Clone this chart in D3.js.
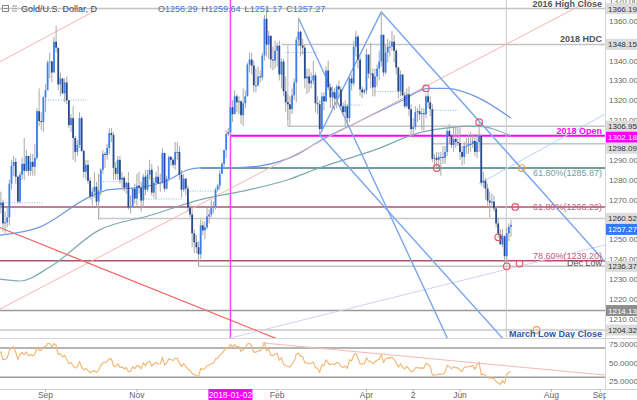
<!DOCTYPE html>
<html>
<head>
<meta charset="utf-8">
<script src="https://cdn.jsdelivr.net/npm/d3@7"></script>
<style>
  body { margin: 0; background: #fff; }
  svg { display: block; font-family: Arial, "Liberation Sans", sans-serif; }
</style>
</head>
<body>
<div id="chart"></div>
<script>
// daily XAU/USD, one value per weekday starting 2017-06-12 (first weeks only feed the RSI)
var firstDay = "2017-06-12"
var closes = [
  1266,1267,1261,1254,1254,1246,1243,1247,1250,1256,1246,1253,1249,1244,1241,
  1221,1225,1226,1223,1212,1213,1219,1219,1217,1228,1234,1241,1242,1245,1254,1255,1249,1260,1261,1269,1269,
  1269,1267,1268.5,1258,1258.5,1261,1278,1287,1289,1281.5,1269,1282.5,1288,1284.5,1292,1284.5,1289,1286.5,1291,1314.5,1309.5,1309,1321.5,
  1325,1339,1339.5,1334,1349.5,1346.5,1328,1331,1323.5,1329,1320,1307.5,1311,1301,1294,1297.5,1311,1294.5,1284,1287.5,1279.5,
  1271.5,1274,1276.5,1269,1274.5,1285,1293,1292.5,1296,1303.5,1302.5,1286,1283,1290,1280,1281,1276,1278.5,1266,1266.5,1275.5,1270.5,
  1277,1276,1269.5,1281.5,1275,1282.5,1285,1273.5,1278.5,1281.5,1278,1278.5,1293.5,1275.5,1280.5,1291.5,1290,1287.5,1294,1294,1282.5,1275,
  1280.5,1275.5,1266,1262.5,1253,1248.5,1246,1242.5,1257,1254.5,1256,1261.5,1262.5,1266,1266.5,1275,1277,1283,1288,1295,1303,
  1304,1316.5,1313,1322,1319,1319.5,1312.5,1318.5,1322,1338,1340.5,1337.5,1327.5,1327.5,1332,1331.5,1342.5,1361,1348,1352.5,1340.5,1340,1345,
  1347.5,1333,1339.5,1324.5,1319,1318,1315.5,1322.5,1329,1350.5,1354.5,1347.5,1346.5,1331,1332,1328.5,1330,1332.5,1318.5,1318,
  1305.5,1322,1319.5,1335,1326.5,1321.5,1324,1321,1327,1325.5,1317,1314,1317,1311,1331,1328.5,1347,1352,1340.5,1325.5,1324,1325,
  1343,1333.5,1333.5,1326.5,1332,1336,1339.5,1353,1334,1344,1347,1347,1349.5,1345,1336.5,1324.5,1333,1322.5,1317,1323,1315.5,
  1305.5,1306.5,1314,1314.5,1313,1313.5,1313,1322,1319,1315.5,1290.5,1291,1290,1291.5,1291.5,1291,1294,1304.5,1302,1297.5,1300.5,1299,1298.5,
  1294,1291.5,1297,1297,1298,1298,1299.5,1294,1299,1302,1278.5,1279.5,1275.5,1269.5,1268.5,1269,1265.5,1258,1252.5,1247.5,1251.5,
  1241.5,1253,1256.29,1257.27
]
var highs = [
  1272,1270,1275,1262,1258,1256,1249,1250,1253,1258,1259,1256,1256,1251,1247,
  1242,1227,1229,1227,1225,1215,1221,1225,1223,1232,1236,1244,1245,1247,1256,1259,1257,1262,1266,1270,1275,
  1274,1271,1274,1270,1264,1266,1280,1290,1292,1291,1282,1284,1291,1301,1295,1292,1293,1293,1298,1316,1326,1314,1322,
  1328,1340,1344,1340,1352,1357.5,1338,1334,1331,1331,1332,1320,1313,1317,1302,1300,1314,1312,1295,1290,1290,
  1281,1276,1284,1279,1283,1286,1295,1294,1298,1306,1306,1304,1289,1292,1292,1284,1282,1279,1284,1272,1276,1278,
  1283,1284,1279,1283,1285,1285,1290,1288,1281,1284,1287,1283,1296,1293,1282,1292,1292,1291,1299,1299,1297,1285,
  1283,1281,1277,1268,1265,1255,1252,1249,1260,1259,1259,1266,1265,1270,1269,1276,1278,1285,1289,1295,1305,
  1306,1317,1320,1325,1323,1322,1320,1326,1325,1339,1344,1344,1340,1336,1337,1335,1344,1363,1366,1355,1352,1347,1350,
  1349,1350,1341,1341,1332,1323,1322,1326,1331,1352,1361,1355,1351,1348,1336,1336,1334,1340,1334,1322,
  1320,1324,1324,1337,1340,1328,1327,1326,1328,1330,1327,1319,1320,1318,1333,1333,1350,1355,1353,1342,1327,1326,
  1346,1343,1349,1336,1336,1338,1345,1365,1352,1348,1351,1350,1355,1353,1346,1337,1335,1333,1324,1326,1327,
  1318,1311,1317,1316,1318,1316,1316,1323,1325,1322,1318,1293,1294,1294,1294,1297,1297,1306,1308,1300,1307,1307,1306,
  1306,1297,1299,1301,1303,1304,1303,1302,1303,1309.5,1303,1284,1281,1278,1274,1273,1272,1267,1261,1255,1255,
  1252,1256,1258,1259.64
]
var lows = [
  1262,1262,1259,1250,1251,1245,1241,1242,1246,1249,1236,1244,1247,1243,1238,
  1218,1219,1218,1220,1205,1205,1209,1217,1215,1216,1227,1233,1237,1237,1244,1250,1246,1247,1255,1257,1266,
  1264,1262,1263,1254,1253,1256,1257,1275,1282,1278,1268,1268,1280,1280,1284,1282,1282,1282,1282,1290,1307,1305,1304,
  1314,1328,1331,1329,1334,1344,1325,1322,1323,1319,1318,1306,1304,1290,1289,1292,1296,1294,1281,1280,1278,
  1270,1267,1271,1266,1260,1272,1283,1286,1290,1293,1299,1280,1280,1280,1278,1275,1274,1273,1265,1263,1266,1268,
  1267,1273,1264,1266,1272,1274,1280,1272,1271,1270,1278,1274,1278,1274,1275,1279,1287,1286,1285,1290,1280,1271,
  1274,1272,1264,1261,1246,1243,1243,1236.5,1240,1252,1250,1255,1258,1261,1263,1265,1274,1275,1283,1286,1291,
  1302,1302,1309,1313,1314,1313,1308,1307,1316,1322,1334,1333,1324,1324,1327,1329,1330,1340,1342,1341,1336,1335,1336,
  1337,1330,1326,1322,1314,1310,1307,1313,1320,1319,1347,1342,1343,1326,1323,1324,1326,1328,1314,1313,
  1303,1304,1315,1319,1325,1316,1316,1315,1316,1322,1315,1312,1307,1307,1309,1325,1327,1342,1336,1322,1321,1323,
  1323,1331,1326,1322,1322,1327,1330,1337,1332,1333,1339,1342,1345,1339,1333,1321,1322,1322,1316,1316,1312,
  1302,1301,1305,1309,1310,1305,1304,1311,1316,1312,1289,1285.5,1286,1286,1282,1288,1288,1292,1298,1296,1294,1296,1297,
  1290,1287,1288,1293,1293,1294,1296,1292,1291,1294,1277,1276,1270,1267,1261,1266,1264,1256,1251,1247,1246,
  1237.5,1238,1249,1251.17
]

// moving averages (100 and 200 day)
var ma100 = [["2017-08-02",1252],["2017-08-29",1256],["2017-10-02",1271.5],["2017-10-13",1275],["2017-11-02",1276],
  ["2017-11-22",1280],["2017-12-05",1285],["2017-12-13",1286],["2018-01-02",1286],["2018-01-22",1287],["2018-02-15",1293],
  ["2018-03-01",1299.5],["2018-03-26",1308.6],["2018-04-25",1320],["2018-05-11",1326],["2018-05-24",1326],
  ["2018-06-13",1321.6],["2018-07-05",1311]]
var ma200 = [["2017-08-02",1230],["2017-08-16",1229],["2017-09-05",1236],["2017-10-06",1254.5],["2017-11-09",1262],
  ["2017-12-13",1270],["2018-01-15",1275],["2018-02-08",1280],["2018-03-01",1286],["2018-04-06",1295],
  ["2018-05-08",1304],["2018-06-13",1307],["2018-07-05",1302]]

// horizontal levels and the date each one starts
var levelPrices = [1366.19,1348.15,1306.95,1302.18,1298.09,1285.87,1266.29,1260.52,1239.20,1236.37,1214.13,1204.32]
var levelFrom = ["2017-06-12","2018-02-05","2018-02-08","2018-01-02","2018-05-15","2017-12-13","2017-06-12",
  "2017-10-06","2017-06-12","2017-12-12","2017-06-12","2017-06-12"]
var levelNotes = [["2016 High Close",1366.19],["2018 HDC",1348.15],["2018 Open",1302.18],["61.80%(1285.87)",1285.87],
  ["61.80%(1266.29)",1266.29],["78.60%(1239.20)",1239.20],["Dec Low",1236.37],["March Low Day Close",1204.32]]

// drawn trend lines, two anchors each [date, price]
var pitchfork = [
  [["2018-02-15",1361.4],["2018-05-24",1200.3]],
  [["2018-03-01",1302.5],["2018-04-11",1364.5]],
  [["2018-04-11",1364.5],["2018-06-14",1309.5]],
  [["2018-03-01",1302.5],["2018-05-07",1246.6]]
]
var redTrend = [["2017-09-01",1246.7],["2018-01-02",1209.3]]
var pinkTrend = [["2017-09-01",1226.9],["2018-01-02",1275.6]]
var pinkUpper = [["2017-09-01",1351.7],["2017-10-04",1364.9]]
var lilacTrend = [["2018-01-02",1200.3],["2018-05-14",1225.3]]
var paleBlueTrend = [["2018-06-14",1278],["2018-08-01",1298.1]]
var rsiTrend = [["2018-01-23",76.9],["2018-05-25",53]]

var pivotDashes = [["2017-08-01","2017-08-31",1268.4],["2017-09-01","2017-09-29",1320.1],["2017-10-10","2017-10-23",1279],
  ["2017-11-06","2017-12-01",1270.3],["2017-12-06","2017-12-21",1274.3],["2018-02-07","2018-02-28",1344],
  ["2018-03-14","2018-03-29",1317.6],["2018-04-06","2018-04-24",1324.4],["2018-05-14","2018-05-31",1315]]

var redMarks = [["2018-05-10",1326],["2018-06-14",1309],["2018-05-17",1285.9],["2018-07-09",1266.3],
  ["2018-06-27",1251],["2018-07-03",1236.4],["2018-07-11",1237.8]]
var orangeMarks = [["2018-07-12",1285.87],["2018-07-23",1204.32]]

var timeTicks = [["2017-09-01","Sep"],["2017-11-01","Nov"],["2018-01-02","2018-01-02"],["2018-02-01","Feb"],
  ["2018-04-02","Apr"],["2018-05-02","2"],["2018-06-01","Jun"],["2018-08-01","Aug"],["2018-09-03","Sep"]]

var W = 637, H = 400
var plotR = 605, pBot = 338, rTop = 339, rBot = 389

var parse = d3.timeParse("%Y-%m-%d")
var days = d3.timeDay.range(parse(firstDay), parse("2018-10-01")).filter(d => d.getDay() % 6 !== 0)
var iSep = d3.bisectLeft(days, parse("2017-09-01"))
var x = d3.scaleLinear().domain([iSep, iSep + 219]).range([45.5, 511])
var y = d3.scaleLinear().domain([1200.3, 1370.5]).range([pBot, 0])
var yr = d3.scaleLinear().domain([25, 75]).range([381, 344.3])
var di = s => d3.bisectLeft(days, parse(s))
var xd = s => x(di(s))

var bars = closes.map((c, i) => ({i: i, o: i ? closes[i - 1] : c, h: highs[i], l: lows[i], c: c}))

// wilder rsi 14
var rsi = []
var ag = 0, al = 0
for (var i = 1; i < closes.length; i++) {
  var ch = closes[i] - closes[i - 1]
  var g = Math.max(ch, 0), l = Math.max(-ch, 0)
  if (i <= 14) {
    ag += g / 14; al += l / 14
    if (i == 14) rsi.push({i: i, v: 100 - 100 / (1 + ag / al)})
  } else {
    ag = (ag * 13 + g) / 14; al = (al * 13 + l) / 14
    rsi.push({i: i, v: 100 - 100 / (1 + ag / al)})
  }
}

var svg = d3.select("#chart").append("svg").attr("width", W).attr("height", H)
var defs = svg.append("defs")
defs.append("clipPath").attr("id", "cp").append("rect").attr("width", plotR).attr("height", pBot)
defs.append("clipPath").attr("id", "cr").append("rect").attr("y", rTop).attr("width", plotR).attr("height", rBot - rTop)
defs.append("clipPath").attr("id", "cx").append("rect").attr("width", plotR + 1).attr("height", H)

var price = svg.append("g").attr("clip-path", "url(#cp)")

// line through two anchors, stretched far both ways, the clip trims it
function ray(g, pts, yScale, ext) {
  var x1 = xd(pts[0][0]), y1 = yScale(pts[0][1]), x2 = xd(pts[1][0]), y2 = yScale(pts[1][1])
  var t0 = ext == "both" || ext == "left" ? -40 : 0
  var t1 = ext == "both" || ext == "right" ? 40 : 1
  return g.append("line")
    .attr("x1", x1 + (x2 - x1) * t0).attr("y1", y1 + (y2 - y1) * t0)
    .attr("x2", x1 + (x2 - x1) * t1).attr("y2", y1 + (y2 - y1) * t1)
    .attr("fill", "none")
}

// levels
var levelColor = ["#c4c4c4","#c4c4c4","#c4c4c4","#ff00ff","#c4c4c4","#6f9c9c","#b0506f","#c8c8c8","#b0506f","#c4c4c4","#9a9a9a","#c8c8c8"]
var levelWidth = [1.5,1.5,1.5,2,1.5,2,1.5,1.5,1.5,1.5,1.5,1.5]
levelPrices.forEach((p, k) => {
  price.append("line")
    .attr("x1", Math.max(0, xd(levelFrom[k]))).attr("x2", plotR)
    .attr("y1", y(p)).attr("y2", y(p))
    .attr("stroke", levelColor[k]).attr("stroke-width", levelWidth[k])
})
// little brackets at the start of some levels
price.append("line").attr("x1", xd("2018-02-08")).attr("x2", xd("2018-02-08"))
  .attr("y1", y(1348.15)).attr("y2", y(1306.95)).attr("stroke", "#c4c4c4").attr("stroke-width", 1.2)
price.append("line").attr("x1", xd("2017-10-06")).attr("x2", xd("2017-10-06"))
  .attr("y1", y(1266)).attr("y2", y(1260.52)).attr("stroke", "#c8c8c8").attr("stroke-width", 1.2)
price.append("line").attr("x1", xd("2017-12-12")).attr("x2", xd("2017-12-12"))
  .attr("y1", y(1240)).attr("y2", y(1236.37)).attr("stroke", "#c4c4c4").attr("stroke-width", 1.2)

// vertical markers
price.append("line").attr("x1", xd("2018-01-02")).attr("x2", xd("2018-01-02")).attr("y1", 0).attr("y2", pBot)
  .attr("stroke", "#ff44ff").attr("stroke-width", 1.5)
price.append("line").attr("x1", xd("2018-07-03") - 0.5).attr("x2", xd("2018-07-03") - 0.5).attr("y1", 0).attr("y2", pBot)
  .attr("stroke", "#c8c8c8").attr("stroke-width", 1)

// moving averages
var maLine = d3.line().x(d => xd(d[0])).y(d => y(d[1])).curve(d3.curveMonotoneX)
price.append("path").attr("d", maLine(ma200)).attr("fill", "none").attr("stroke", "#7fa9b0").attr("stroke-width", 1.2)
price.append("path").attr("d", maLine(ma100)).attr("fill", "none").attr("stroke", "#6f98e6").attr("stroke-width", 1.2)

// trend lines
ray(price, pinkTrend, y, "both").attr("stroke", "#f6b3b3").attr("stroke-width", 1)
ray(price, pinkUpper, y, "left").attr("stroke", "#f6b3b3").attr("stroke-width", 1)
ray(price, redTrend, y, "both").attr("stroke", "#f26a6a").attr("stroke-width", 1.3)
ray(price, lilacTrend, y, "right").attr("stroke", "#d6d0ee").attr("stroke-width", 1)
ray(price, paleBlueTrend, y, "right").attr("stroke", "#b9d0f5").attr("stroke-width", 1)
pitchfork.forEach((p, k) => {
  ray(price, p, y, k == 1 ? "none" : "right").attr("stroke", "#7aa5ec").attr("stroke-width", 1.4)
})

// pivot dashes
pivotDashes.forEach(p => {
  price.append("line").attr("x1", xd(p[0])).attr("x2", xd(p[1])).attr("y1", y(p[2])).attr("y2", y(p[2]))
    .attr("stroke", "#8eaaf0").attr("stroke-width", 1).attr("stroke-dasharray", "1,1.5")
})

// candles
price.selectAll(".wick").data(bars).join("line").attr("class", "wick")
  .attr("x1", d => x(d.i)).attr("x2", d => x(d.i))
  .attr("y1", d => y(d.h)).attr("y2", d => y(d.l))
  .attr("stroke", "#a9a9a9").attr("stroke-width", 1)
price.selectAll(".body").data(bars).join("rect").attr("class", "body")
  .attr("x", d => x(d.i) - 0.9).attr("width", 1.8)
  .attr("y", d => y(Math.max(d.o, d.c)))
  .attr("height", d => Math.max(1, Math.abs(y(d.o) - y(d.c))))
  .attr("fill", d => d.c >= d.o ? "#3a7ff2" : "#28498c")

// circles
redMarks.forEach(m => price.append("circle").attr("cx", xd(m[0])).attr("cy", y(m[1])).attr("r", 3.3)
  .attr("fill", "none").attr("stroke", "#e8566a").attr("stroke-width", 1.2))
orangeMarks.forEach(m => price.append("circle").attr("cx", xd(m[0])).attr("cy", y(m[1])).attr("r", 3.3)
  .attr("fill", "none").attr("stroke", "#f0a24a").attr("stroke-width", 1.2))

// level captions
var noteStyle = {
  "2016 High Close": ["#555", "bold", -1.5], "2018 HDC": ["#555", "bold", -2.5], "2018 Open": ["#ff00ff", "bold", -2],
  "61.80%(1285.87)": ["#6f9c9c", "normal", 7.5], "61.80%(1266.29)": ["#c0607a", "normal", 3],
  "78.60%(1239.20)": ["#c0607a", "normal", -2], "Dec Low": ["#555", "normal", 0], "March Low Day Close": ["#2b5aa8", "bold", 7]
}
levelNotes.forEach(n => {
  var s = noteStyle[n[0]]
  price.append("text").attr("x", 602).attr("y", y(n[1]) + s[2]).attr("text-anchor", "end")
    .attr("font-size", 9).attr("font-weight", s[1]).attr("fill", s[0]).text(n[0])
})

// rsi panel
var rsiG = svg.append("g").attr("clip-path", "url(#cr)")
rsiG.append("line").attr("x1", 0).attr("x2", plotR).attr("y1", yr(70)).attr("y2", yr(70)).attr("stroke", "#9e9e9e").attr("stroke-width", 1.5)
rsiG.append("line").attr("x1", 0).attr("x2", plotR).attr("y1", yr(30)).attr("y2", yr(30)).attr("stroke", "#9e9e9e").attr("stroke-width", 1.5)
ray(rsiG, rsiTrend, yr, "right").attr("stroke", "#f7b7b7").attr("stroke-width", 1)
rsiG.append("path").attr("d", d3.line().x(d => x(d.i)).y(d => yr(d.v))(rsi))
  .attr("fill", "none").attr("stroke", "#f5b46e").attr("stroke-width", 1.1)

// frame
svg.append("line").attr("x1", 0).attr("x2", W).attr("y1", pBot + 0.5).attr("y2", pBot + 0.5).attr("stroke", "#d6d6d6")
svg.append("line").attr("x1", 0).attr("x2", W).attr("y1", rBot + 0.5).attr("y2", rBot + 0.5).attr("stroke", "#d0d0d0")
svg.append("line").attr("x1", plotR + 0.5).attr("x2", plotR + 0.5).attr("y1", 0).attr("y2", rBot).attr("stroke", "#d6d6d6")

// time axis
var axG = svg.append("g").attr("clip-path", "url(#cx)")
timeTicks.forEach(t => {
  var tx = xd(t[0])
  axG.append("line").attr("x1", tx).attr("x2", tx).attr("y1", rBot).attr("y2", rBot + 3).attr("stroke", "#bbb")
  if (t[1] == "2018-01-02") {
    axG.append("rect").attr("x", tx - 22).attr("y", rBot).attr("width", 44).attr("height", 11).attr("fill", "#ff00ff")
    axG.append("text").attr("x", tx).attr("y", 398).attr("text-anchor", "middle").attr("font-size", 8.5).attr("fill", "#fff").text(t[1])
  } else {
    axG.append("text").attr("x", tx).attr("y", 398).attr("text-anchor", "middle").attr("font-size", 8.5).attr("fill", "#666").text(t[1])
  }
})

// price axis
var boxes = [[1366.19,"#dcdcdc","#333"],[1348.15,"#dcdcdc","#333"],[1306.95,"#dcdcdc","#333"],[1302.18,"#ff00ff","#fff"],
  [1298.09,"#dcdcdc","#333"],[1260.52,"#dcdcdc","#333"],[1257.27,"#2f7cf6","#fff"],[1236.37,"#dcdcdc","#333"],
  [1214.13,"#8e8e8e","#fff"],[1204.32,"#dcdcdc","#333"]]
d3.range(1210, 1371, 10).forEach(v => {
  if (boxes.some(b => Math.abs(y(b[0]) - y(v)) < 5)) return
  svg.append("text").attr("x", 609).attr("y", y(v) + 3).attr("font-size", 8).attr("fill", "#666").text(v.toFixed(2))
})
var prev = -100
boxes.forEach(b => {
  var cy = Math.max(y(b[0]), prev + 11)
  prev = cy
  svg.append("rect").attr("x", 606).attr("y", cy - 5.5).attr("width", 31).attr("height", 11).attr("fill", b[1])
  svg.append("text").attr("x", 608).attr("y", cy + 3).attr("font-size", 8).attr("fill", b[2]).text(b[0].toFixed(2))
})
;[75, 50, 25].forEach(v => {
  svg.append("text").attr("x", 609).attr("y", yr(v) + 3).attr("font-size", 8).attr("fill", "#666").text(v.toFixed(4))
})

// header
var hd = svg.append("g")
hd.append("rect").attr("x", 2.5).attr("y", 5.5).attr("width", 6).attr("height", 6).attr("fill", "none").attr("stroke", "#888")
hd.append("line").attr("x1", 4).attr("x2", 7.5).attr("y1", 8.5).attr("y2", 8.5).attr("stroke", "#888")
;[6, 8.5, 11].forEach(v => hd.append("line").attr("x1", 12).attr("x2", 17).attr("y1", v).attr("y2", v).attr("stroke", "#aaa").attr("stroke-width", 1.2))
hd.append("text").attr("x", 21).attr("y", 12).attr("font-size", 9).attr("fill", "#444").text("Gold/U.S. Dollar, D")
var last = bars[bars.length - 1]
var ohlc = hd.append("text").attr("x", 158).attr("y", 12).attr("font-size", 9)
;[["O", last.o], ["H", last.h], ["L", last.l], ["C", last.c]].forEach((p, k) => {
  ohlc.append("tspan").attr("fill", "#666").attr("dx", k ? 4 : 0).text(p[0])
  ohlc.append("tspan").attr("fill", "#3a78e6").text(p[1].toFixed(2))
})
</script>
</body>
</html>
